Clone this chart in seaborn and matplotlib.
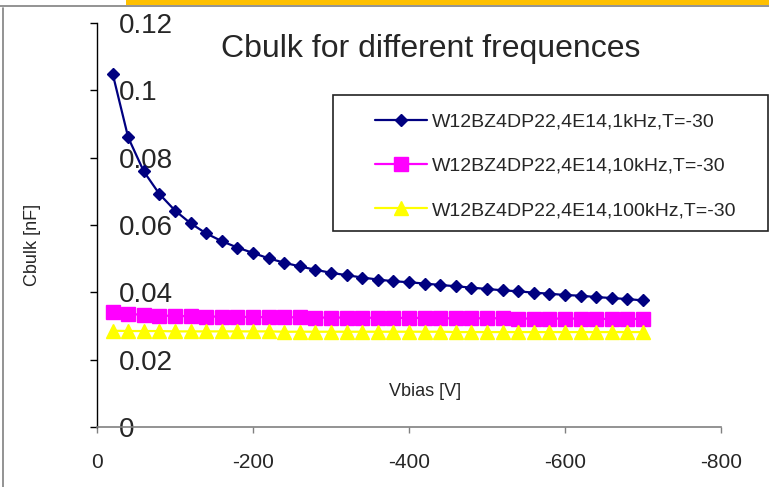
import matplotlib
matplotlib.use("Agg")
import matplotlib.pyplot as plt
from matplotlib.lines import Line2D
from matplotlib.patches import Rectangle
import pandas as pd
import seaborn as sns

# Bias voltage steps [V]
vbias = [-20, -40, -60, -80, -100, -120, -140, -160, -180, -200,
         -220, -240, -260, -280, -300, -320, -340, -360, -380, -400,
         -420, -440, -460, -480, -500, -520, -540, -560, -580, -600,
         -620, -640, -660, -680, -700]

# Bulk capacitance [nF] at three measurement frequencies
cbulk_1khz = [0.1050, 0.0860, 0.0759, 0.0692, 0.0643, 0.0605, 0.0575, 0.0552, 0.0533, 0.0517,
              0.0501, 0.0488, 0.0477, 0.0467, 0.0458, 0.0451, 0.0444, 0.0438, 0.0433, 0.0430,
              0.0426, 0.0422, 0.0418, 0.0414, 0.0410, 0.0406, 0.0403, 0.0399, 0.0396, 0.0392,
              0.0390, 0.0386, 0.0383, 0.0380, 0.0376]
cbulk_10khz = [0.0341, 0.0336, 0.0333, 0.0331, 0.0330, 0.0329, 0.0328, 0.0328, 0.0327, 0.0327,
               0.0326, 0.0326, 0.0326, 0.0325, 0.0325, 0.0325, 0.0325, 0.0324, 0.0324, 0.0324,
               0.0324, 0.0323, 0.0323, 0.0323, 0.0323, 0.0323, 0.0322, 0.0322, 0.0322, 0.0322,
               0.0322, 0.0321, 0.0321, 0.0321, 0.0321]
cbulk_100khz = [0.0286, 0.0285, 0.0285, 0.0285, 0.0284, 0.0284, 0.0284, 0.0284, 0.0284, 0.0284,
                0.0284, 0.0283, 0.0283, 0.0283, 0.0283, 0.0283, 0.0283, 0.0283, 0.0283, 0.0283,
                0.0283, 0.0283, 0.0282, 0.0282, 0.0282, 0.0282, 0.0282, 0.0282, 0.0282, 0.0282,
                0.0282, 0.0282, 0.0282, 0.0282, 0.0282]

series_labels = ["W12BZ4DP22,4E14,1kHz,T=-30",
                 "W12BZ4DP22,4E14,10kHz,T=-30",
                 "W12BZ4DP22,4E14,100kHz,T=-30"]
x_ticks = [0, -200, -400, -600, -800]
x_ticklabels = ["0", "-200", "-400", "-600", "-800"]
y_ticks = [0, 0.02, 0.04, 0.06, 0.08, 0.1, 0.12]
y_ticklabels = ["0", "0.02", "0.04", "0.06", "0.08", "0.1", "0.12"]

sns.set_theme(style="white")
plt.rcParams["font.family"] = ["Liberation Sans", "DejaVu Sans"]

W, H = 769, 487
fig = plt.figure(figsize=(W / 100, H / 100), dpi=100)
ax = fig.add_axes([97 / W, 60 / H, 624 / W, 404 / H])

styles = [
    dict(color="#000080", marker="D", markersize=6.6),
    dict(color="#FF00FF", marker="s", markersize=10.0),
    dict(color="#FFFF00", marker="^", markersize=9.6),
]
for vals, lab, st in zip([cbulk_1khz, cbulk_10khz, cbulk_100khz], series_labels, styles):
    df = pd.DataFrame({"Vbias": vbias, "Cbulk": vals})
    sns.lineplot(data=df, x="Vbias", y="Cbulk", ax=ax, label=lab,
                 color=st["color"], marker=st["marker"], markersize=st["markersize"],
                 linewidth=1.6, markeredgecolor=st["color"],
                 markeredgewidth=1.0, clip_on=False)

ax.set_xlim(0, -800)
ax.set_ylim(0, 0.12)
ax.set_xticks(x_ticks)
ax.set_xticklabels(x_ticklabels)
ax.set_yticks(y_ticks)
ax.set_yticklabels(y_ticklabels)

for side in ("top", "right"):
    ax.spines[side].set_visible(False)
ax.spines["left"].set_color("black")
ax.spines["left"].set_linewidth(1.0)
ax.spines["bottom"].set_color("#808080")
ax.spines["bottom"].set_linewidth(1.2)

ax.tick_params(axis="y", direction="out", length=5, width=1, color="black",
               left=True, labelsize=20, pad=-21)
for t in ax.get_yticklabels():
    t.set_horizontalalignment("left")
ax.tick_params(axis="x", direction="out", length=4.5, width=1, color="#808080",
               bottom=True, labelsize=15, pad=14.5)

ax.set_xlabel("Vbias [V]", fontsize=13, va="center")
ax.xaxis.set_label_coords(0.526, 0.089)
ax.set_ylabel("Cbulk [nF]", fontsize=13, va="center")
ax.yaxis.set_label_coords(-0.1026, 0.45)

ax.text(0.534, 0.935, "Cbulk for different frequences", transform=ax.transAxes,
        ha="center", va="center", fontsize=23)

leg = ax.legend(loc="upper left", bbox_to_anchor=(365 / W, 1 - 103 / H),
                bbox_transform=fig.transFigure, frameon=False, fontsize=14,
                borderpad=0, handlelength=2.67, handletextpad=0.26,
                labelspacing=1.38)
fig.add_artist(Rectangle((333 / W, 1 - 231 / H), 435 / W, 136 / H,
                         transform=fig.transFigure, fill=False,
                         edgecolor="#222222", linewidth=1.2))

# Slide decoration: orange header strip and frame lines
fig.add_artist(Rectangle((126 / W, 1 - 5 / H), 1, 5 / H, transform=fig.transFigure,
                         facecolor="#FFC000", edgecolor="none"))
fig.add_artist(Line2D([0, 1], [1 - 5.5 / H, 1 - 5.5 / H], transform=fig.transFigure,
                      color="#808080", linewidth=1.2))
fig.add_artist(Line2D([3 / W, 3 / W], [0, 1 - 8 / H], transform=fig.transFigure,
                      color="#808080", linewidth=1.2))

fig.savefig("out.png", dpi=100)
